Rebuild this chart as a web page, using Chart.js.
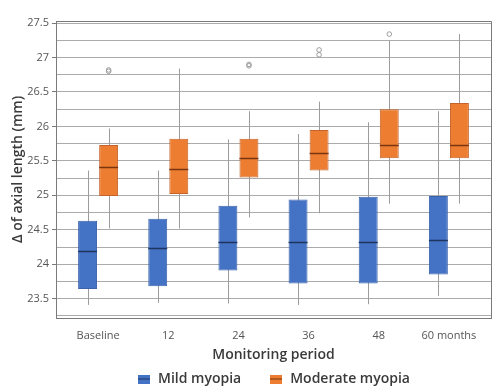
<!DOCTYPE html>
<html>
<head>
<meta charset="utf-8">
<script src="https://cdn.jsdelivr.net/npm/chart.js@4.4.1/dist/chart.umd.min.js"></script>
<style>
  body { margin: 0; background: #fff; }
  #boxChart { display: block; }
</style>
</head>
<body>
<canvas id="boxChart" width="500" height="392"></canvas>
<script>
// Monitoring periods
const categories = ["Baseline", "12", "24", "36", "48", "60 months"];

// Mild myopia (whisker low, Q1, median, Q3, whisker high)
const mildMin = [23.41, 23.44, 23.43, 23.41, 23.42, 23.54];
const mildQ1 = [23.64, 23.68, 23.91, 23.72, 23.72, 23.85];
const mildMedian = [24.19, 24.24, 24.32, 24.32, 24.33, 24.35];
const mildQ3 = [24.63, 24.66, 24.85, 24.94, 24.98, 24.99];
const mildMax = [25.36, 25.36, 25.81, 25.89, 26.06, 26.22];
const mildOutliers = [[], [], [], [], [], []];

// Moderate myopia
const modMin = [24.52, 24.52, 24.68, 24.74, 24.88, 24.88];
const modQ1 = [24.99, 25.02, 25.26, 25.36, 25.54, 25.54];
const modMedian = [25.41, 25.38, 25.54, 25.61, 25.73, 25.73];
const modQ3 = [25.73, 25.82, 25.82, 25.95, 26.25, 26.34];
const modMax = [25.97, 26.84, 26.22, 26.36, 27.24, 27.34];
const modOutliers = [[26.82, 26.80], [], [26.9, 26.88], [27.11, 27.04], [27.34], []];

const BLUE = "#4472c4";
const ORANGE = "#ed7d31";

const stats = [
    { min: mildMin, median: mildMedian, max: mildMax, outliers: mildOutliers, medianColor: "#1f3560" },
    { min: modMin, median: modMedian, max: modMax, outliers: modOutliers, medianColor: "#7a3510" },
];

// little box-with-median icon for the legend
function legendIcon(fill, line) {
    const c = document.createElement("canvas");
    c.width = 12;
    c.height = 9;
    const g = c.getContext("2d");
    g.fillStyle = fill;
    g.fillRect(0, 0, 12, 9);
    g.fillStyle = line;
    g.fillRect(0, 4, 12, 1);
    return c;
}

const isHalf = (v) => Math.abs(v * 2 - Math.round(v * 2)) < 1e-6;

// whiskers, medians, outliers and the closing frame
const boxExtras = {
    id: "boxExtras",
    beforeDatasetsDraw(chart) {
        const { ctx } = chart;
        const y = chart.scales.y;
        ctx.save();
        ctx.strokeStyle = "#9c9c9c";
        ctx.lineWidth = 1;
        stats.forEach((s, di) => {
            chart.getDatasetMeta(di).data.forEach((bar, i) => {
                const x = Math.round(bar.x) + 0.5;
                ctx.beginPath();
                ctx.moveTo(x, y.getPixelForValue(s.min[i]));
                ctx.lineTo(x, y.getPixelForValue(s.max[i]));
                ctx.stroke();
            });
        });
        ctx.restore();
    },
    afterDatasetsDraw(chart) {
        const { ctx, chartArea } = chart;
        const y = chart.scales.y;
        ctx.save();
        stats.forEach((s, di) => {
            chart.getDatasetMeta(di).data.forEach((bar, i) => {
                const half = bar.width / 2;
                const my = Math.round(y.getPixelForValue(s.median[i])) + 0.5;
                ctx.strokeStyle = s.medianColor;
                ctx.lineWidth = 1.5;
                ctx.beginPath();
                ctx.moveTo(bar.x - half, my);
                ctx.lineTo(bar.x + half, my);
                ctx.stroke();

                ctx.strokeStyle = "#9c9c9c";
                ctx.lineWidth = 1;
                s.outliers[i].forEach((v) => {
                    ctx.beginPath();
                    ctx.arc(bar.x, y.getPixelForValue(v), 2.3, 0, Math.PI * 2);
                    ctx.stroke();
                });
            });
        });
        ctx.strokeStyle = "#7a7a7a";
        ctx.lineWidth = 1;
        ctx.beginPath();
        ctx.moveTo(chartArea.left, Math.round(chartArea.top) + 0.5);
        ctx.lineTo(Math.round(chartArea.right) + 0.5, Math.round(chartArea.top) + 0.5);
        ctx.lineTo(Math.round(chartArea.right) + 0.5, chartArea.bottom);
        ctx.stroke();
        ctx.restore();
    },
};

const FONT = "'Open Sans', 'DejaVu Sans', sans-serif";

const ctx = document.getElementById("boxChart").getContext("2d");
new Chart(ctx, {
    type: "bar",
    data: {
        datasets: [
            {
                label: "Mild myopia",
                data: categories.map((_, i) => ({ x: i, y: [mildQ1[i], mildQ3[i]] })),
                backgroundColor: BLUE,
                borderColor: "#3a63ad",
                borderWidth: 1,
                borderSkipped: false,
                categoryPercentage: 0.6,
                barPercentage: 0.9,
                pointStyle: legendIcon(BLUE, "#1f3560"),
            },
            {
                label: "Moderate myopia",
                data: categories.map((_, i) => ({ x: i, y: [modQ1[i], modQ3[i]] })),
                backgroundColor: ORANGE,
                borderColor: "#c4632a",
                borderWidth: 1,
                borderSkipped: false,
                categoryPercentage: 0.6,
                barPercentage: 0.9,
                pointStyle: legendIcon(ORANGE, "#7a3510"),
            },
        ],
    },
    options: {
        responsive: false,
        animation: false,
        layout: { padding: { top: 21, right: 9, left: 0, bottom: -4 } },
        plugins: {
            legend: {
                position: "bottom",
                fullSize: false,
                labels: {
                    usePointStyle: true,
                    padding: 28,
                    color: "#3a3a3a",
                    font: { family: FONT, size: 14, weight: "600" },
                },
            },
            tooltip: { enabled: false },
        },
        scales: {
            x: {
                type: "linear",
                offset: false,
                min: -0.6,
                max: 5.6,
                afterBuildTicks: (scale) => {
                    scale.ticks = categories.map((_, i) => ({ value: i }));
                },
                afterFit: (scale) => {
                    scale.height = 26;
                },
                grid: { display: false, drawTicks: false, offset: false },
                border: { color: "#7a7a7a" },
                ticks: {
                    padding: 11,
                    color: "#555",
                    font: { family: FONT, size: 11 },
                    maxRotation: 0,
                    callback: (v) => categories[Math.round(v)],
                },
                title: {
                    display: true,
                    text: "Monitoring period",
                    color: "#3a3a3a",
                    font: { family: FONT, size: 14, weight: "600" },
                    padding: { top: 0, bottom: -19 },
                },
            },
            y: {
                min: 23.22,
                max: 27.53,
                afterFit: (scale) => {
                    scale.width = 56;
                },
                grid: {
                    color: "#ababab",
                    tickLength: 4,
                    tickColor: (c) => (c.tick && isHalf(c.tick.value) ? "#7a7a7a" : "rgba(0,0,0,0)"),
                },
                border: { color: "#7a7a7a" },
                ticks: {
                    stepSize: 0.25,
                    includeBounds: false,
                    padding: 3,
                    color: "#555",
                    font: { family: FONT, size: 11 },
                    callback: (v) => (isHalf(v) ? String(Math.round(v * 2) / 2) : ""),
                },
                title: {
                    display: true,
                    text: "Δ of axial length (mm)",
                    color: "#3a3a3a",
                    font: { family: FONT, size: 14, weight: "600" },
                    padding: { top: 10, bottom: 0 },
                },
            },
        },
    },
    plugins: [boxExtras],
});
</script>
</body>
</html>
